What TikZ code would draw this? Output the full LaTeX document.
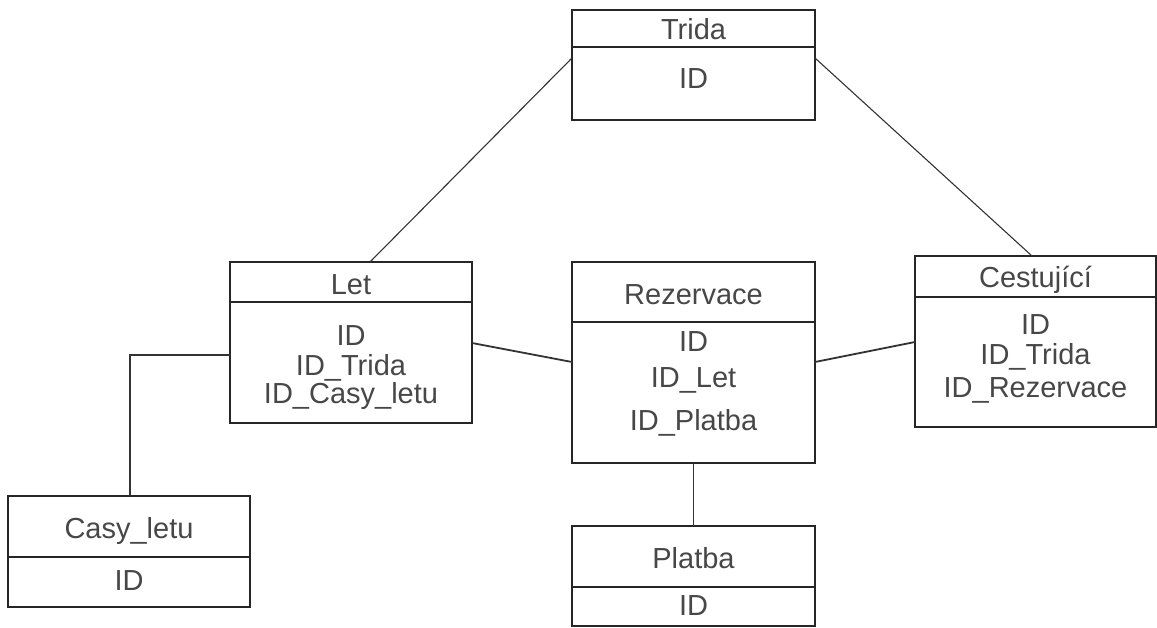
\documentclass[tikz,border=0pt]{standalone}
\usepackage{fontspec}
\setmainfont{Liberation Sans}
\begin{document}
\begin{tikzpicture}[x=1pt,y=-1pt,
  entity/.style={draw=black!85, line width=1.6pt, rectangle, anchor=north west,
                 inner sep=0pt, outer sep=0pt},
  txt/.style={text=black!72, font=\fontsize{29}{33}\selectfont, inner sep=0pt, anchor=base},
  sep/.style={draw=black!85, line width=1.6pt},
  link/.style={draw=black!80, line width=1.8pt},
  thinlink/.style={draw=black!80, line width=1.1pt}]
\useasboundingbox (0,0) rectangle (1157,628);

% entity boxes
\node[entity, minimum width=243pt, minimum height=110pt] (trida)  at (572,10)  {};
\node[entity, minimum width=242pt, minimum height=161pt] (let)    at (230,262) {};
\node[entity, minimum width=243pt, minimum height=201pt] (rez)    at (572,262) {};
\node[entity, minimum width=241pt, minimum height=171pt] (cest)   at (915,256) {};
\node[entity, minimum width=242pt, minimum height=111pt] (casy)   at (8,496)   {};
\node[entity, minimum width=243pt, minimum height=100pt] (platba) at (572,526) {};

% header separators
\draw[sep] (572,47)  -- (815,47);
\draw[sep] (230,302) -- (472,302);
\draw[sep] (572,322) -- (815,322);
\draw[sep] (915,297) -- (1156,297);
\draw[sep] (8,557)   -- (250,557);
\draw[sep] (572,587) -- (815,587);

% Trida
\node[txt] (tridaT)  at (693.5,40) {Trida};
\node[txt] (tridaA1) at (693.5,89) {ID};

% Let
\node[txt] (letT)  at (351,295) {Let};
\node[txt] (letA1) at (351,345) {ID};
\node[txt] (letA2) at (351,375) {ID\_Trida};
\node[txt] (letA3) at (351,403) {ID\_Casy\_letu};

% Rezervace
\node[txt] (rezT)  at (693.5,305) {Rezervace};
\node[txt] (rezA1) at (693.5,352) {ID};
\node[txt] (rezA2) at (693.5,388) {ID\_Let};
\node[txt] (rezA3) at (693.5,430) {ID\_Platba};

% Cestující
\node[txt] (cestT)  at (1035.5,288) {Cestující};
\node[txt] (cestA1) at (1035.5,335) {ID};
\node[txt] (cestA2) at (1035.5,365) {ID\_Trida};
\node[txt] (cestA3) at (1035.5,397) {ID\_Rezervace};

% Casy_letu
\node[txt] (casyT)  at (129,538) {Casy\_letu};
\node[txt] (casyA1) at (129,590) {ID};

% Platba
\node[txt] (platbaT)  at (693.5,568) {Platba};
\node[txt] (platbaA1) at (693.5,615) {ID};

% relationships
\draw[thinlink] ([yshift=-48pt]trida.north west) -- ([xshift=140pt]let.north west);
\draw[thinlink] ([yshift=-48pt]trida.north east) -- ([xshift=117pt]cest.north west);
\draw[link] ([yshift=-81pt]let.north east) -- ([yshift=-100pt]rez.north west);
\draw[link] ([yshift=-100pt]rez.north east) -- ([yshift=-86pt]cest.north west);
\draw[link] ([yshift=-93pt]let.north west) -| ([xshift=122pt]casy.north west);
\draw[link] (rez.south) -- (platba.north);
\end{tikzpicture}
\end{document}
